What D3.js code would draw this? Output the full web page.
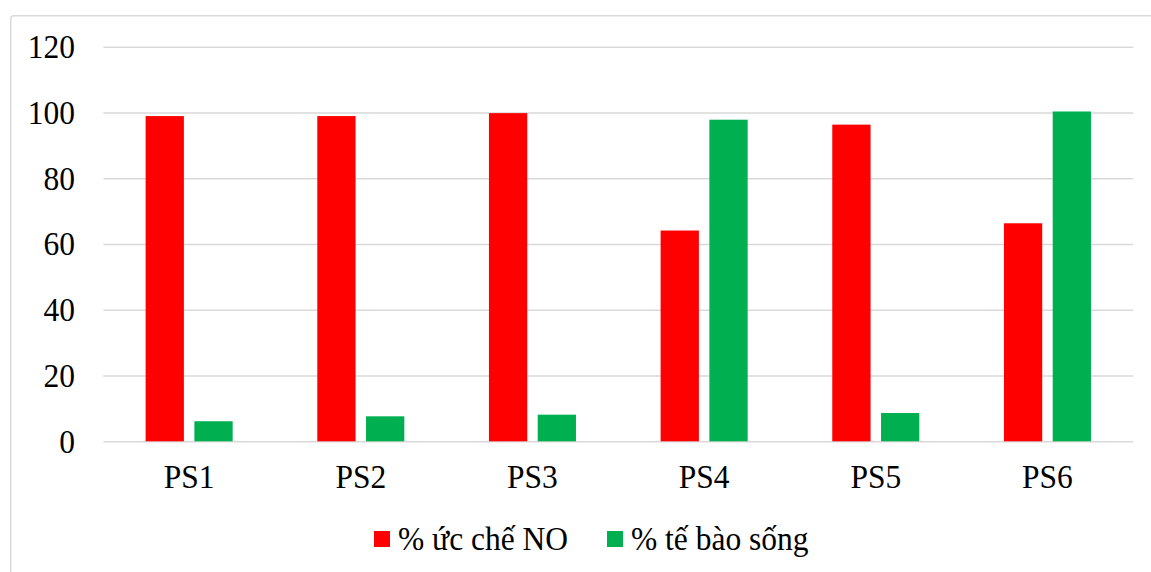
<!DOCTYPE html>
<html>
<head>
<meta charset="utf-8">
<script src="https://cdn.jsdelivr.net/npm/d3@7"></script>
<style>
  html, body { margin: 0; padding: 0; background: #fff; }
  svg { display: block; }
</style>
</head>
<body>
<svg id="chart" width="1151" height="572"></svg>
<script>
// Samples and measured percentages
const categories = ["PS1", "PS2", "PS3", "PS4", "PS5", "PS6"];
const seriesNames = ["% ức chế NO", "% tế bào sống"];
const inhibitionNO = [98.9, 98.9, 99.8, 64.1, 96.3, 66.3];
const cellViability = [6.1, 7.6, 8.1, 97.8, 8.6, 100.3];
const yTicks = [0, 20, 40, 60, 80, 100, 120];
const colors = ["#ff0000", "#00b050"];

const series = [inhibitionNO, cellViability];
const rows = categories.map((c, i) => ({ cat: c, values: series.map(s => s[i]) }));

const svg = d3.select("#chart");
const plot = { left: 103.3, right: 1133.3, top: 46.7, bottom: 441.3 };
const fontFamily = "'Liberation Serif', 'Times New Roman', Times, serif";
const fontSize = 31.5;
const stretch = 1.09; // text is drawn slightly tall

function label(sel) {
  return sel.append("text")
    .attr("font-family", fontFamily)
    .attr("font-size", fontSize)
    .attr("fill", "#000");
}

// Chart frame
svg.append("rect")
  .attr("x", 10.75).attr("y", 15.75)
  .attr("width", 1200).attr("height", 600)
  .attr("rx", 3)
  .attr("fill", "none")
  .attr("stroke", "#d9d9d9")
  .attr("stroke-width", 1.5);

const y = d3.scaleLinear().domain([0, 120]).range([plot.bottom, plot.top]);
const x0 = d3.scaleBand().domain(categories).range([plot.left, plot.right])
  .paddingInner(0.493).paddingOuter(0.2465);
const x1 = d3.scaleBand().domain(d3.range(series.length)).range([0, x0.bandwidth()])
  .paddingInner(0.215);

// Horizontal gridlines
const grid = svg.append("g")
  .attr("transform", `translate(${plot.left},0)`)
  .call(d3.axisLeft(y).tickValues(yTicks).tickSize(-(plot.right - plot.left)).tickFormat(""));
grid.select(".domain").remove();
grid.selectAll(".tick line").attr("stroke", "#d9d9d9").attr("stroke-width", 1.5);

// Y tick labels
label(svg.append("g").selectAll("g")
  .data(yTicks)
  .join("g")
  .attr("transform", d => `translate(75,${y(d) + 11.3}) scale(1,${stretch})`))
  .attr("text-anchor", "end")
  .text(d => d);

// Bars
const groups = svg.append("g").selectAll("g")
  .data(rows)
  .join("g")
  .attr("transform", d => `translate(${x0(d.cat)},0)`);

groups.selectAll("rect")
  .data(d => d.values.map((v, k) => ({ k, v })))
  .join("rect")
  .attr("x", d => x1(d.k))
  .attr("width", x1.bandwidth())
  .attr("y", d => y(d.v))
  .attr("height", d => y(0) - y(d.v))
  .attr("fill", d => colors[d.k]);

// Category labels
label(svg.append("g").selectAll("g")
  .data(categories)
  .join("g")
  .attr("transform", d => `translate(${x0(d) + x0.bandwidth() / 2},488) scale(1,${stretch})`))
  .attr("text-anchor", "middle")
  .text(d => d);

// Legend
const legendX = [374, 607];
const legend = svg.append("g").selectAll("g")
  .data(seriesNames)
  .join("g")
  .attr("transform", (d, i) => `translate(${legendX[i]},0)`);
legend.append("rect")
  .attr("x", 0).attr("y", 531)
  .attr("width", 16).attr("height", 16)
  .attr("fill", (d, i) => colors[i]);
label(legend.append("g")
  .attr("transform", `translate(24,549.5) scale(1,${stretch})`))
  .text(d => d);
</script>
</body>
</html>
